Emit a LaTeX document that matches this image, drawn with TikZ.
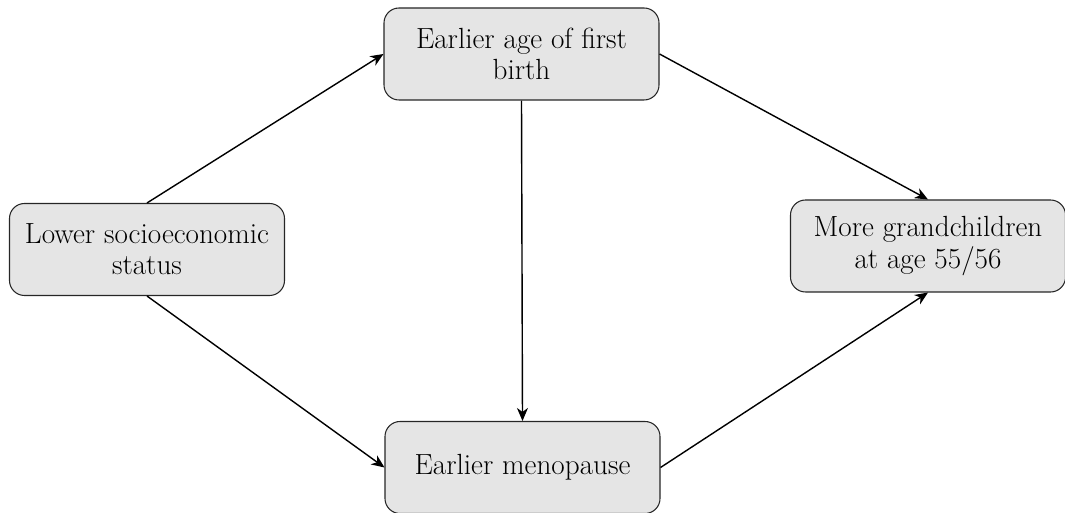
\documentclass[tikz,border=0pt]{standalone}
\usepackage{fontspec}
\usetikzlibrary{arrows.meta}
\tikzset{
  factor/.style={draw=black!85,semithick,fill=black!10,rounded corners=0.3cm,
    minimum width=5.5cm,minimum height=1.84cm,align=center,
    font=\fontsize{16.6}{17.8}\selectfont},
  link/.style={-{Stealth[length=2.6mm,width=2.2mm,inset=0.8mm]},thick}
}
\begin{document}
\begin{tikzpicture}
      \useasboundingbox (0,0) rectangle (21.3,-10.26);

      % 四个因素
      \node[factor] (ses) at (2.94,-4.99) {Lower socioeconomic\\status};
      \node[factor] (birth) at (10.43,-1.08) {Earlier age of first\\birth};
      \node[factor] (meno) at (10.45,-9.35) {Earlier menopause};
      \node[factor] (grand) at (18.56,-4.92) {More grandchildren\\at age 55/56};

      % 路径
      \draw[link] (ses.north) -- (birth.west);
      \draw[link] (ses.south) -- (meno.west);
      \draw[link] (birth.south) -- (meno.north);
      \draw[link] (birth.east) -- (grand.north);
      \draw[link] (meno.east) -- (grand.south);
    \end{tikzpicture}
\end{document}
